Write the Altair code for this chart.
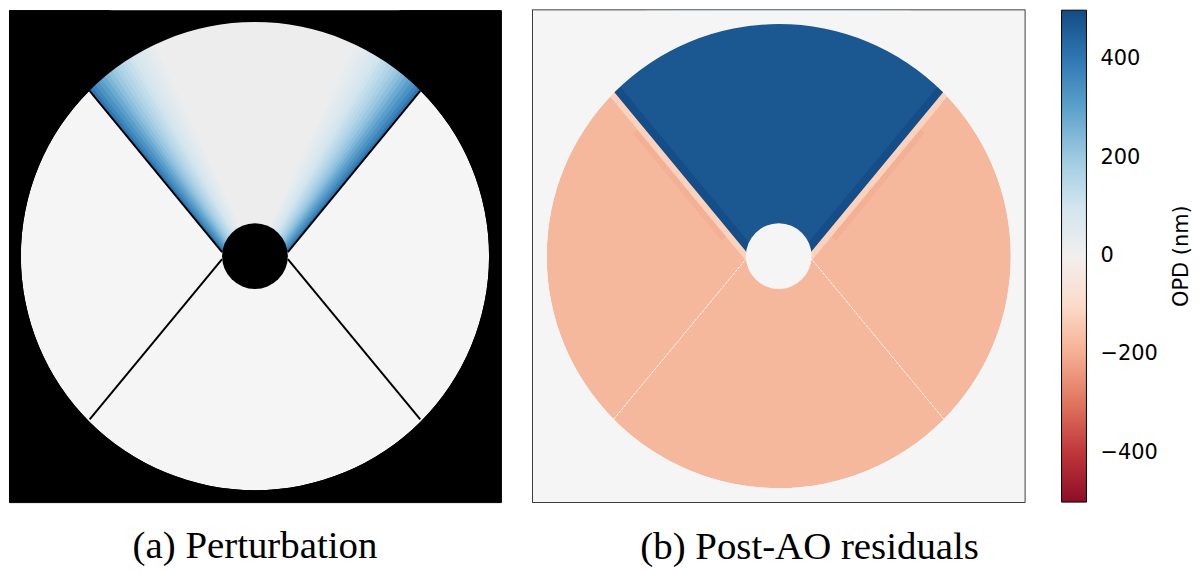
import math
import altair as alt
import pandas as pd

# ---------------- values ----------------
# Pupil geometry in pupil units (1 unit ~ 1 reference pixel), origin at pupil centre, y up
pupil_radius_a = 235
pupil_radius_b = 233
obstruction_radius = 33
mask_radius = 360            # outside the pupil everything is masked
petal_reach = 300            # radius of petal wedges before they are masked by the pupil rim

# spider arms: from the rim (45 deg points) to the sides of the central obstruction
arm_name = ["upper left", "upper right", "lower left", "lower right"]
arm_rim_x = [-166, 166, -166, 166]
arm_rim_y = [166, 166, -164, -164]
arm_hub_x = [-33, 33, -33, 33]
arm_hub_y = [4, 4, -3, -3]

# (a) perturbation on the top petal: nested iso-OPD wedges
#     (apex height, half opening angle in deg, OPD in nm)
pert_apex_y = [-35.0, -33.8, -32.6, -31.3, -30.0, -28.6, -27.2, -25.7, -24.2, -22.6, -20.9,
               -19.2, -17.5, -15.6, -13.7, -11.6, -9.5, -7.3, -5.0, -2.6, -0.1]
pert_half_angle = [39.6, 38.8, 38.1, 37.3, 36.5, 35.7, 35.0, 34.2, 33.4, 32.7, 31.9,
                   31.2, 30.4, 29.7, 28.9, 28.2, 27.4, 26.7, 26.0, 25.2, 24.5]
pert_opd = [405, 370, 337, 306, 277, 250, 225, 202, 180, 160, 142,
            125, 108, 92, 78, 65, 53, 42, 32, 23, 16]
pert_apex_cut = 6            # wedge tips hidden behind the obstruction

# (b) post-AO residuals: three segments + top petal with edge fringes
resid_other_opd = -178
resid_apex_y = [-53.8, -44.4, -35.0, -22.4]
resid_half_angle = [39.6, 39.6, 39.6, 39.6]
resid_inner = [90, 51, 6, 0]
resid_outer = [230, 300, 300, 300]
resid_opd = [-195, -120, 495, 472]

opd_domain = [-500, 500]
cbar_ticks = [-400, -200, 0, 200, 400]
cbar_title = ["OPD (nm)"]
captions = ["(a) Perturbation", "(b) Post-AO residuals"]

# ---------------- scales & helpers ----------------
HALF = 247
SIZE = 2 * HALF


def pos_scale():
    return alt.Scale(domain=[-HALF, HALF], nice=False, zero=False)


theta_scale = alt.Scale(domain=[0, 360], range=[0, 2 * math.pi])
radius_scale = alt.Scale(type="linear", domain=[0, mask_radius], range=[0, mask_radius], zero=True)

LEG = alt.Legend(
    orient="right", offset=37, direction="vertical",
    gradientLength=SIZE, gradientThickness=25,
    gradientStrokeColor="black", gradientStrokeWidth=1,
    values=cbar_ticks, labelFont="DejaVu Sans", labelFontSize=21, labelColor="black",
    labelOffset=14, labelOverlap=False, title=None,
)


def color_enc(with_legend):
    scale = alt.Scale(domain=opd_domain, scheme="redblue")
    if with_legend:
        return alt.Color("opd:Q", scale=scale, legend=LEG)
    return alt.Color("opd:Q", scale=scale, legend=None)


def arc_layer(df, fill=None, with_legend=False):
    enc = dict(
        x=alt.X("cx:Q", scale=pos_scale(), axis=None),
        y=alt.Y("cy:Q", scale=pos_scale(), axis=None),
        theta=alt.Theta("t0:Q", scale=theta_scale, stack=False),
        theta2=alt.Theta2("t1:Q"),
        radius=alt.Radius("r1:Q", scale=radius_scale),
        radius2=alt.Radius2("r0:Q"),
    )
    if fill is None:
        return alt.Chart(df).mark_arc(clip=True, strokeWidth=0, opacity=1).encode(
            color=color_enc(with_legend), **enc)
    return alt.Chart(df).mark_arc(clip=True, fill=fill, strokeWidth=0, opacity=1).encode(**enc)


def circle_df(r_in, r_out, opd=0):
    return pd.DataFrame({"cx": [0], "cy": [0], "t0": [0], "t1": [360],
                         "r0": [r_in], "r1": [r_out], "opd": [opd]})


def wedge_df(apex, half, opd, inner, outer):
    return pd.DataFrame({
        "cx": [0] * len(apex), "cy": apex,
        "t0": [-h for h in half], "t1": half,
        "r0": inner, "r1": outer, "opd": opd,
    })


arms = pd.DataFrame({"arm": arm_name, "x0": arm_rim_x, "y0": arm_rim_y,
                     "x1": arm_hub_x, "y1": arm_hub_y})


def arm_layer(df, color, width, opacity=1.0, dash=None):
    kw = dict(color=color, strokeWidth=width, opacity=opacity, clip=True)
    if dash:
        kw["strokeDash"] = dash
    return alt.Chart(df).mark_rule(**kw).encode(
        x=alt.X("x0:Q", scale=pos_scale(), axis=None),
        y=alt.Y("y0:Q", scale=pos_scale(), axis=None),
        x2="x1:Q", y2="y1:Q",
    )


def caption(text, dx=0):
    return alt.TitleParams(text, orient="bottom", anchor="middle", frame="group",
                           font="Liberation Serif", fontSize=39, fontWeight="normal",
                           color="black", offset=25, baseline="top", dx=dx)


# ---------------- panel (a) ----------------
n_a = len(pert_opd)
panel_a = alt.layer(
    arc_layer(circle_df(0, pupil_radius_a), fill="#f5f5f5"),
    arc_layer(wedge_df(pert_apex_y, pert_half_angle, pert_opd,
                       [pert_apex_cut] * n_a, [petal_reach] * n_a)),
    arc_layer(circle_df(pupil_radius_a, mask_radius), fill="black"),
    arm_layer(arms, "black", 2),
    arc_layer(circle_df(0, obstruction_radius), fill="black"),
).properties(
    width=SIZE, height=SIZE, title=caption(captions[0]),
    view=alt.ViewBackground(fill="black", stroke="black", strokeWidth=1),
)

# ---------------- panel (b) ----------------
BG = "#f5f5f5"
panel_b = alt.layer(
    arc_layer(circle_df(0, pupil_radius_b, resid_other_opd), with_legend=True),
    arc_layer(wedge_df(resid_apex_y, resid_half_angle, resid_opd, resid_inner, resid_outer),
              with_legend=True),
    arc_layer(circle_df(pupil_radius_b, mask_radius), fill=BG),
    arm_layer(arms[arms["arm"].str.startswith("lower")], "white", 1, 0.9, [3, 1]),
    arc_layer(circle_df(0, obstruction_radius), fill=BG),
).properties(
    width=SIZE, height=SIZE, title=caption(captions[1], dx=31),
    view=alt.ViewBackground(fill=BG, stroke="black", strokeWidth=1.5),
)

# ---------------- colour-bar title ----------------
cbar_label = alt.Chart(pd.DataFrame({"label": cbar_title})).mark_text(
    angle=270, font="DejaVu Sans", fontSize=21, color="black",
    align="center", baseline="middle",
).encode(text="label:N").properties(
    width=16, height=SIZE,
    view=alt.ViewBackground(fill="transparent", stroke="transparent", strokeWidth=0),
)

right = alt.hconcat(panel_b, cbar_label, spacing=12).resolve_scale(
    x="independent", y="independent", color="independent")

chart = alt.hconcat(panel_a, right, spacing=30).resolve_scale(
    x="independent", y="independent", color="independent"
).properties(
    padding={"left": 0, "right": 0, "top": 0, "bottom": 0},
    background="white",
)

chart.save("out.html", embed_options={"renderer": "svg", "actions": False})
